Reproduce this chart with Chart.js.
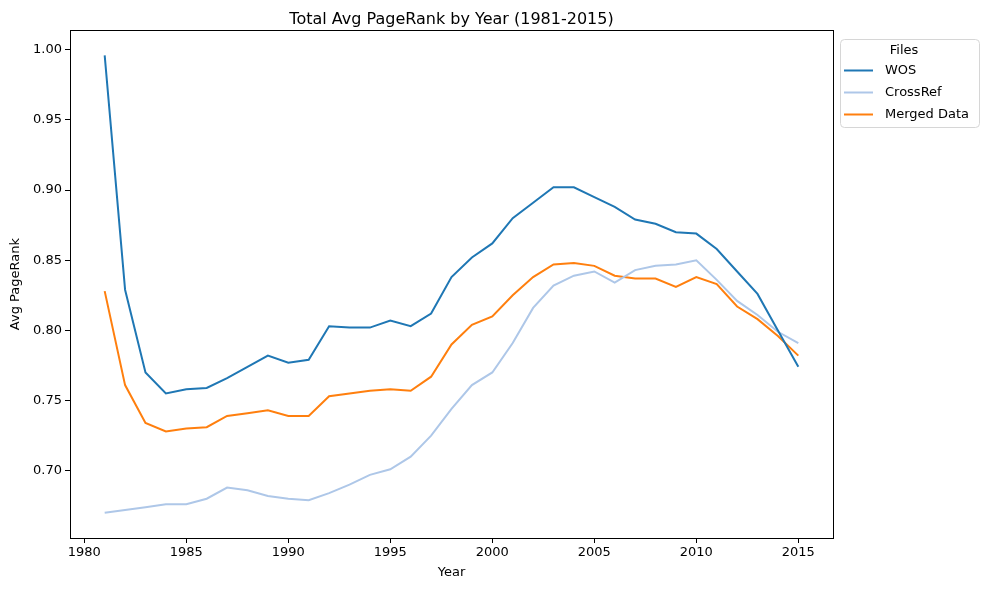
<!DOCTYPE html>
<html>
<head>
<meta charset="utf-8">
<script src="https://cdn.jsdelivr.net/npm/chart.js@4"></script>
<style>
  body { margin: 0; background: #fff; }
  #wrap { width: 990px; height: 590px; }
</style>
</head>
<body>
<div id="wrap"><canvas id="myChart" width="990" height="590"></canvas></div>
<script>
// Values
const years = [1981, 1982, 1983, 1984, 1985, 1986, 1987, 1988, 1989, 1990,
  1991, 1992, 1993, 1994, 1995, 1996, 1997, 1998, 1999, 2000,
  2001, 2002, 2003, 2004, 2005, 2006, 2007, 2008, 2009, 2010,
  2011, 2012, 2013, 2014, 2015];

const wos = [0.996, 0.829, 0.770, 0.755, 0.758, 0.759, 0.766, 0.774, 0.782, 0.777,
  0.779, 0.803, 0.802, 0.802, 0.807, 0.803, 0.812, 0.838, 0.852, 0.862,
  0.880, 0.891, 0.902, 0.902, 0.895, 0.888, 0.879, 0.876, 0.870, 0.869,
  0.858, 0.842, 0.826, 0.800, 0.774];

const crossRef = [0.670, 0.672, 0.674, 0.676, 0.676, 0.680, 0.688, 0.686, 0.682, 0.680,
  0.679, 0.684, 0.690, 0.697, 0.701, 0.710, 0.725, 0.744, 0.761, 0.770,
  0.791, 0.816, 0.832, 0.839, 0.842, 0.834, 0.843, 0.846, 0.847, 0.850,
  0.836, 0.821, 0.811, 0.799, 0.791];

const merged = [0.828, 0.761, 0.734, 0.728, 0.730, 0.731, 0.739, 0.741, 0.743, 0.739,
  0.739, 0.753, 0.755, 0.757, 0.758, 0.757, 0.767, 0.790, 0.804, 0.810,
  0.825, 0.838, 0.847, 0.848, 0.846, 0.839, 0.837, 0.837, 0.831, 0.838,
  0.833, 0.817, 0.808, 0.796, 0.782];

const xTicks = [1980, 1985, 1990, 1995, 2000, 2005, 2010, 2015];
const yTicks = [0.70, 0.75, 0.80, 0.85, 0.90, 0.95, 1.00];

const FONT = "'DejaVu Sans', sans-serif";

function toXY(vals) {
  return years.map((y, i) => ({ x: y, y: vals[i] }));
}

// frame round the plot area + legend on the right
const framePlugin = {
  id: "frame",
  afterDraw(chart) {
    const { ctx, chartArea: a } = chart;
    ctx.save();
    ctx.strokeStyle = "#000";
    ctx.lineWidth = 1;
    ctx.strokeRect(Math.round(a.left) + 0.5, Math.round(a.top) + 0.5,
      Math.round(a.right - a.left), Math.round(a.bottom - a.top));

    // legend box
    const bx = 840.5, by = 39.5, bw = 139, bh = 88, r = 4;
    ctx.beginPath();
    ctx.moveTo(bx + r, by);
    ctx.arcTo(bx + bw, by, bx + bw, by + bh, r);
    ctx.arcTo(bx + bw, by + bh, bx, by + bh, r);
    ctx.arcTo(bx, by + bh, bx, by, r);
    ctx.arcTo(bx, by, bx + bw, by, r);
    ctx.closePath();
    ctx.fillStyle = "rgba(255,255,255,0.8)";
    ctx.fill();
    ctx.strokeStyle = "#d6d6d6";
    ctx.stroke();

    ctx.fillStyle = "#000";
    ctx.font = "13px " + FONT;
    ctx.textBaseline = "middle";
    ctx.textAlign = "center";
    ctx.fillText("Files", 904, 51);
    ctx.textAlign = "left";
    chart.data.datasets.forEach((ds, i) => {
      const yy = 70.5 + i * 22;
      ctx.strokeStyle = ds.borderColor;
      ctx.lineWidth = 2;
      ctx.beginPath();
      ctx.moveTo(844, yy);
      ctx.lineTo(873, yy);
      ctx.stroke();
      ctx.fillText(ds.label, 885, yy);
    });
    ctx.restore();
  }
};

new Chart("myChart", {
  type: "line",
  data: {
    datasets: [
      { label: "WOS", data: toXY(wos), borderColor: "#1f77b4" },
      { label: "CrossRef", data: toXY(crossRef), borderColor: "#aec7e8" },
      { label: "Merged Data", data: toXY(merged), borderColor: "#ff7f0e" }
    ]
  },
  options: {
    responsive: false,
    animation: false,
    elements: {
      line: { borderWidth: 2, tension: 0, fill: false },
      point: { radius: 0, hoverRadius: 0 }
    },
    layout: { padding: { left: 0, right: 157, top: 0, bottom: 0 } },
    plugins: {
      legend: { display: false },
      tooltip: { enabled: false },
      title: {
        display: true,
        fullSize: false,
        text: "Total Avg PageRank by Year (1981-2015)",
        color: "#000",
        font: { family: FONT, size: 16, weight: "normal", lineHeight: 1.2 },
        padding: { top: 10, bottom: 1 }
      }
    },
    scales: {
      x: {
        type: "linear",
        min: 1979.3,
        max: 2016.7,
        afterFit(s) { s.height = 52; },
        afterBuildTicks(s) { s.ticks = xTicks.map(v => ({ value: v })); },
        grid: { drawOnChartArea: false, drawTicks: true, tickLength: 5, color: "#000" },
        border: { display: true, color: "#000" },
        ticks: {
          color: "#000",
          font: { family: FONT, size: 13 },
          padding: 2,
          maxRotation: 0,
          callback: v => String(v)
        },
        title: {
          display: true, text: "Year", color: "#000",
          font: { family: FONT, size: 13 }, padding: { top: 2, bottom: 10 }
        }
      },
      y: {
        min: 0.652,
        max: 1.014,
        afterFit(s) { s.width = 70; },
        afterBuildTicks(s) { s.ticks = yTicks.map(v => ({ value: v })); },
        grid: { drawOnChartArea: false, drawTicks: true, tickLength: 5, color: "#000" },
        border: { display: true, color: "#000" },
        ticks: {
          color: "#000",
          font: { family: FONT, size: 13 },
          padding: 3,
          callback: v => v.toFixed(2)
        },
        title: {
          display: true, text: "Avg PageRank", color: "#000",
          font: { family: FONT, size: 13 }, padding: { top: 8, bottom: 4 }
        }
      }
    }
  },
  plugins: [framePlugin]
});
</script>
</body>
</html>
